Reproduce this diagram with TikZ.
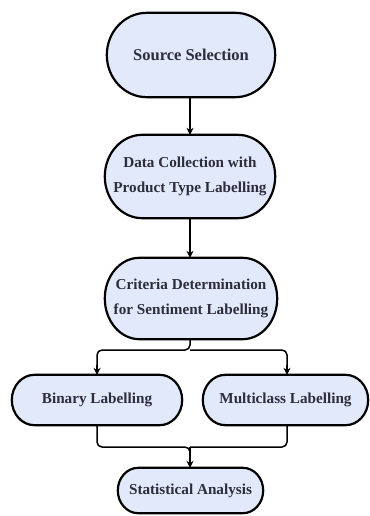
\documentclass[tikz,border=0pt]{standalone}
\usepackage{fontspec}
\setmainfont{Liberation Serif}
\usetikzlibrary{arrows.meta,calc,backgrounds}
\definecolor{boxfill}{RGB}{226,233,251}
\definecolor{boxtext}{RGB}{45,45,60}
\tikzset{
  stepbox/.style={inner sep=0pt, align=center, text=boxtext,
    font=\fontsize{15.2}{25}\selectfont\bfseries},
  pillline/.style={draw=black, line width=2.2pt, fill=boxfill},
  conn/.style={draw=black, line width=1.5pt, -{Stealth[length=7pt,width=7pt]}},
  link/.style={draw=black, line width=1.5pt, rounded corners=5pt},
}
% #1 node name, #2 horizontal radius factor
\newcommand\pillbox[2]{%
  \path[pillline] let \p1=(#1.north west), \p2=(#1.south east),
    \n1={(\y1-\y2)/2}, \n2={#2*(\y1-\y2)/2} in
    (\x1+\n2,\y1) -- (\x2-\n2,\y1)
    arc[start angle=90,end angle=-90,x radius=\n2,y radius=\n1]
    -- (\x1+\n2,\y2)
    arc[start angle=270,end angle=90,x radius=\n2,y radius=\n1] -- cycle;}
\begin{document}
\begin{tikzpicture}[x=1pt,y=-1pt]
\useasboundingbox (0,0) rectangle (369,516);
\node[stepbox, minimum width=168pt, minimum height=84pt,
  font=\fontsize{16.5}{25}\selectfont\bfseries] (src) at (191,55) {Source Selection};
\node[stepbox, minimum width=170pt, minimum height=83pt] (data) at (190,176.5)
  {Data Collection with\\Product Type Labelling};
\node[stepbox, minimum width=172pt, minimum height=81pt] (crit) at (191,298.5)
  {Criteria Determination\\for Sentiment Labelling};
\node[stepbox, minimum width=170pt, minimum height=50pt] (bin) at (97,400)
  {Binary Labelling};
\node[stepbox, minimum width=165pt, minimum height=50pt] (multi) at (285.5,400)
  {Multiclass Labelling};
\node[stepbox, minimum width=145pt, minimum height=45pt] (stat) at (190.5,490.5)
  {Statistical Analysis};
\begin{scope}[on background layer]
\pillbox{src}{0.95}
\pillbox{data}{0.9}
\pillbox{crit}{0.85}
\pillbox{bin}{0.9}
\pillbox{multi}{0.9}
\pillbox{stat}{0.9}
\end{scope}
\coordinate (split) at (190,350);
\coordinate (merge) at (190,447);
\draw[conn] (src.south -| 190,0) -- (data.north -| 190,0);
\draw[conn] (data.south -| 190,0) -- (crit.north -| 190,0);
\draw[link] (crit.south -| split) -- (split) -| (97,368);
\draw[conn] (97,365) -- (bin.north -| 97,0);
\draw[link] (split) -| (287,368);
\draw[conn] (287,365) -- (multi.north -| 287,0);
\draw[link] (bin.south -| 97,0) |- (merge) -- (190,455);
\draw[link] (multi.south -| 287,0) |- (merge);
\draw[conn] (merge) -- (stat.north -| merge);
\end{tikzpicture}
\end{document}
